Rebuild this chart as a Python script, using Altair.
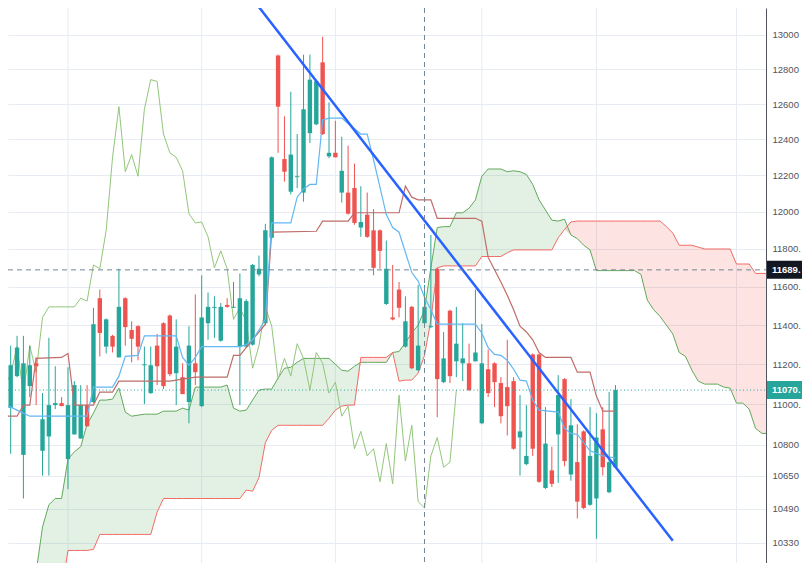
import altair as alt
import pandas as pd
import numpy as np

# ---------------- candles (bar index -1 .. 96) ----------------
candle_idx = list(range(-1, 97))
opens = [11195, 10790, 10980, 11140, 10750, 11090, 11205, 10770, 10840, 10995,
         11005, 10730, 10850, 10830, 10995, 11010, 11540, 11290, 11345, 11235,
         11540, 11375, 11395, 11195, 11055, 11295, 11410, 11450, 11155, 11135,
         11010, 11205, 10990, 11410, 11490, 11320, 11505, 11490, 11290, 11290,
         11300, 11665, 11410, 11860, 12880, 12290, 12110, 12190, 12105, 12435,
         12485, 12840, 12305, 12325, 12105, 12105, 12130, 11915, 11985, 11900,
         11900, 11510, 11440, 11585, 11290, 11495, 11170, 11410, 11390, 11695,
         11110, 11475, 11215, 11205, 11205, 11215, 10905, 11175, 11205, 11105,
         11085, 11115, 10835, 10705, 11250, 11250, 10590, 10675, 10850, 11125,
         10655, 10715, 10865, 10510, 10540, 10875, 10570, 10690]
highs = [11205, 11075, 11295, 11345, 11345, 11295, 11235, 11055, 11335, 11190,
         11035, 11185, 11115, 11095, 11095, 11490, 11585, 11435, 11350, 11695,
         11545, 11420, 11400, 11290, 11290, 11355, 11415, 11455, 11430, 11205,
         11395, 11560, 11660, 11570, 11550, 11515, 11540, 11625, 11670, 11535,
         11720, 11765, 11935, 12305, 12885, 12530, 12670, 12430, 12885, 12885,
         12735, 12990, 12610, 12505, 12415, 12365, 12265, 12140, 12105, 12015,
         11905, 11845, 11715, 11625, 11550, 11500, 11610, 11610, 11875, 11700,
         11365, 11480, 11495, 11410, 11305, 11585, 11405, 11275, 11210, 11135,
         11325, 11135, 11045, 10995, 11255, 11255, 10985, 10790, 11145, 11130,
         11025, 10900, 10870, 10985, 10955, 10985, 11060, 11095]
lows = [11045, 10580, 10755, 11135, 10540, 11035, 10995, 10650, 10650, 10975,
        10990, 10585, 10850, 10830, 10890, 11005, 11240, 11255, 11260, 11235,
        11295, 11210, 11220, 11000, 11050, 11095, 11075, 11140, 10995, 11050,
        10905, 11095, 10985, 11325, 11335, 11315, 11490, 11490, 10995, 11285,
        11295, 11655, 11400, 11855, 12325, 12165, 12095, 12130, 12055, 12380,
        12480, 12425, 12295, 12300, 12050, 11985, 11930, 11865, 11860, 11660,
        11695, 11505, 11425, 11440, 11285, 11175, 11165, 11405, 11385, 10935,
        11105, 11105, 11135, 11115, 11065, 11215, 10900, 11035, 10985, 10905,
        10845, 10775, 10650, 10700, 10745, 10615, 10585, 10595, 10615, 10695,
        10625, 10445, 10490, 10505, 10350, 10650, 10565, 10685]
closes = [11055, 11025, 11195, 11285, 11205, 11195, 11190, 10925, 10995, 11005,
          10990, 10995, 11095, 10995, 10890, 11405, 11360, 11430, 11290, 11495,
          11390, 11330, 11290, 11200, 11195, 11190, 11090, 11150, 11290, 11050,
          11295, 11160, 11440, 11495, 11495, 11495, 11495, 11495, 11540, 11525,
          11715, 11695, 11900, 12300, 12585, 12220, 12315, 12195, 12570, 12740,
          12730, 12430, 12325, 12300, 12225, 11990, 11940, 11945, 11865, 11700,
          11790, 11695, 11430, 11490, 11420, 11180, 11295, 11495, 11395, 11125,
          11230, 11140, 11305, 11230, 11070, 11260, 11205, 11055, 11110, 10940,
          10990, 10780, 10865, 10745, 10780, 10620, 10805, 10610, 11045, 10720,
          10895, 10525, 10495, 10745, 10835, 10690, 10715, 11070]

# ---------------- Ichimoku lines ----------------
tenkan_idx = [-1, 1, 2, 4, 13, 14, 17, 18, 19, 21, 22, 27, 28, 29, 30, 31, 37, 38, 39, 40,
              41, 42, 45, 46, 47, 48, 49, 50, 51, 53, 54, 56, 57, 58, 59, 60, 61, 62, 64, 65,
              66, 67, 68, 74, 75, 76, 77, 78, 79, 80, 81, 82, 83, 84, 87, 88, 89, 90, 92, 94, 96]
tenkan_val = [11015, 10985, 10970, 10940, 10940, 11085, 11085, 11140, 11240, 11245,
              11345, 11345, 11235, 11195, 11235, 11290, 11290, 11300, 11325, 11375,
              11430, 11940, 11940, 12080, 12125, 12150, 12150, 12510, 12520, 12520,
              12490, 12430, 12430, 12285, 12135, 11985, 11915, 11890, 11675, 11630,
              11545, 11480, 11405, 11405, 11360, 11285, 11250, 11245, 11220, 11175,
              11120, 11115, 11020, 10970, 10960, 10880, 10855, 10850, 10770, 10745, 10735]

kijun_idx = [-1, 0, 2, 3, 4, 5, 9, 10, 11, 14, 15, 17, 18, 26, 30, 35, 36, 37, 39, 41,
             42, 49, 50, 54, 55, 62, 63, 64, 65, 67, 68, 74, 75, 76, 77, 78, 79, 80, 81, 82,
             83, 84, 85, 89, 90, 92, 93, 94, 96]
kijun_val = [10905, 10940, 10940, 10995, 10995, 11230, 11235, 11255, 10995, 10995,
             11060, 11060, 11115, 11115, 11135, 11135, 11245, 11245, 11325, 11405,
             11890, 11895, 11950, 11950, 11995, 11995, 12140, 12080, 12065, 12065,
             11965, 11965, 11950, 11755, 11690, 11625, 11555, 11480, 11395, 11365,
             11325, 11260, 11235, 11235, 11160, 11160, 11040, 10965, 10965]

cloud_idx = list(range(-1, 122))
span_a = [9710, 9775, 9840, 9910, 9975, 10065, 10195, 10405, 10510, 10540,
          10540, 10730, 10765, 10790, 10900, 10955, 11020, 11020, 11025, 11080,
          10960, 10940, 10945, 10950, 10950, 10950, 10965, 10965, 10965, 10980,
          10970, 11085, 11085, 11085, 11085, 11085, 11095, 10980, 10965, 10970,
          11020, 11070, 11075, 11075, 11130, 11180, 11185, 11210, 11230, 11230,
          11230, 11230, 11230, 11200, 11170, 11165, 11190, 11210, 11210, 11210,
          11210, 11210, 11260, 11265, 11310, 11360, 11400, 11480, 11700, 11915,
          11920, 11920, 11995, 11995, 12020, 12065, 12195, 12235, 12235, 12235,
          12220, 12225, 12220, 12205, 12150, 12065, 12010, 11955, 11950, 11960,
          11875, 11855, 11820, 11795, 11685, 11685, 11685, 11685, 11685, 11685,
          11685, 11665, 11530, 11480, 11445, 11400, 11355, 11260, 11240, 11170,
          11115, 11100, 11100, 11100, 11085, 11080, 11005, 11005, 10975, 10880,
          10855, 10855, 10855]
span_b = [9535, 9580, 9620, 9665, 9710, 9755, 9820, 9885, 9955, 10020,
          10110, 10295, 10295, 10295, 10295, 10300, 10370, 10370, 10370, 10370,
          10370, 10370, 10370, 10370, 10370, 10475, 10540, 10540, 10540, 10540,
          10540, 10540, 10540, 10540, 10540, 10540, 10540, 10540, 10540, 10580,
          10575, 10640, 10810, 10870, 10895, 10895, 10895, 10895, 10895, 10895,
          10895, 10895, 10930, 10970, 10990, 10995, 10995, 11235, 11235, 11235,
          11235, 11235, 11260, 11115, 11120, 11120, 11155, 11245, 11425, 11700,
          11710, 11710, 11710, 11710, 11710, 11710, 11760, 11760, 11760, 11760,
          11780, 11795, 11795, 11795, 11795, 11795, 11795, 11795, 11860, 11905,
          11945, 11950, 11950, 11950, 11950, 11950, 11950, 11950, 11950, 11950,
          11950, 11950, 11950, 11950, 11950, 11920, 11885, 11820, 11820, 11820,
          11810, 11800, 11800, 11800, 11800, 11800, 11720, 11720, 11720, 11670,
          11670, 11670, 11670]

lag_shift = 25  # lagging span plotted 25 bars back

# ---------------- annotations ----------------
trend_idx = [40, 105]
trend_val = [13165, 10340]
vgrid_idx = [10, 31, 52, 75, 93, 115]
cross_idx = 66
cross_price = 11689
last_price = 11070
tick_values = [10330, 10490, 10650, 10800, 11000, 11200, 11400, 11600, 11800,
               12000, 12200, 12400, 12600, 12800, 13000]
flag_prices = [11689, 11070]
flag_texts = ["11689.", "11070."]
flag_colors = ["#131722", "#26a69a"]

# ---------------- frames ----------------
cdf = pd.DataFrame({"i": candle_idx, "open": opens, "high": highs,
                    "low": lows, "close": closes})
cdf["dir"] = np.where(cdf["close"] >= cdf["open"], "up", "down")

lag = cdf[cdf["i"] >= lag_shift - 1].copy()
lag["x"] = lag["i"] - lag_shift

cloud = pd.DataFrame({"i": cloud_idx, "a": span_a, "b": span_b})
cloud["lo"] = np.minimum(cloud["a"], cloud["b"])

tdf = pd.DataFrame({"i": tenkan_idx, "v": tenkan_val})
kdf = pd.DataFrame({"i": kijun_idx, "v": kijun_val})
trdf = pd.DataFrame({"i": trend_idx, "v": trend_val})
gdf = pd.DataFrame({"i": vgrid_idx})
xdf = pd.DataFrame({"i": [cross_idx]})
hdf = pd.DataFrame({"p": [cross_price]})
ldf = pd.DataFrame({"p": [last_price]})
fdf = pd.DataFrame({"p": flag_prices, "t": flag_texts, "c": flag_colors})

W, H = 758, 555
xs = alt.Scale(domain=[0.578, 119.64], nice=False, zero=False, padding=0)
ys = alt.Scale(type="log", domain=[10236.7, 13159.8], nice=False, padding=0)

yaxis = alt.Axis(orient="right", values=tick_values, grid=True, gridColor="#e6ecf2",
                 gridWidth=1, ticks=False, domain=True, domainColor="#50535e", domainWidth=1,
                 labelColor="#50535e", labelFont="Liberation Sans", labelFontSize=9.5,
                 labelPadding=6, labelAlign="left", labelBaseline="middle",
                 labelOverlap=False, labelBound=False, labelFlush=False, title=None,
                 labelExpr="datum.value >= 11000 && datum.value <= 11800 ? format(datum.value, 'd') + '.' : format(datum.value, 'd')")


def X(f):
    return alt.X(f, type="quantitative", scale=xs, axis=None)


def Y(f):
    return alt.Y(f, type="quantitative", scale=ys, axis=yaxis)


color_dir = alt.Color("dir:N", scale=alt.Scale(domain=["up", "down"],
                                               range=["#26a69a", "#ef5350"]), legend=None)

vgrid = alt.Chart(gdf).mark_rule(color="#e6ecf2", strokeWidth=1).encode(x=X("i"))

green_fill = alt.Chart(cloud).mark_area(color="#43a047", opacity=0.15, clip=True).encode(
    x=X("i"), y=Y("a"), y2="lo")
red_fill = alt.Chart(cloud).mark_area(color="#f44336", opacity=0.15, clip=True).encode(
    x=X("i"), y=Y("b"), y2="lo")
a_line = alt.Chart(cloud).mark_line(color="#63a85b", strokeWidth=1, clip=True).encode(
    x=X("i"), y=Y("a"))
b_line = alt.Chart(cloud).mark_line(color="#f26b65", strokeWidth=1, clip=True).encode(
    x=X("i"), y=Y("b"))
lag_line = alt.Chart(lag).mark_line(color="#93c67a", strokeWidth=1, clip=True).encode(
    x=X("x"), y=Y("close"))

wicks = alt.Chart(cdf).mark_rule(strokeWidth=1, clip=True).encode(
    x=X("i"), y=Y("low"), y2="high", color=color_dir)
bodies = alt.Chart(cdf).mark_bar(size=4.4, clip=True).encode(
    x=X("i"), y=Y("open"), y2="close", color=color_dir)

kijun = alt.Chart(kdf).mark_line(color="#bf6d69", strokeWidth=1.2, clip=True).encode(
    x=X("i"), y=Y("v"))
tenkan = alt.Chart(tdf).mark_line(color="#63b7f3", strokeWidth=1.2, clip=True).encode(
    x=X("i"), y=Y("v"))
trend = alt.Chart(trdf).mark_line(color="#2962ff", strokeWidth=2.5, clip=True).encode(
    x=X("i"), y=Y("v"))

cross_v = alt.Chart(xdf).mark_rule(color="#758696", strokeWidth=1, strokeDash=[5, 4]).encode(
    x=X("i"))
cross_h = alt.Chart(hdf).mark_rule(color="#758696", strokeWidth=1, strokeDash=[5, 4]).encode(
    y=Y("p"), x=alt.value(0), x2=alt.value(W))
last_line = alt.Chart(ldf).mark_rule(color="#26a69a", strokeWidth=1, strokeDash=[1, 2.5]).encode(
    y=Y("p"), x=alt.value(0), x2=alt.value(W))

flags = alt.Chart(fdf).mark_rect(yOffset=-9, y2Offset=9).encode(
    x=alt.value(W + 1), x2=alt.value(W + 40), y=Y("p"), y2="p",
    color=alt.Color("c:N", scale=None))
flag_text = alt.Chart(fdf).mark_text(align="left", baseline="middle", color="white",
                                     fontSize=9.5, fontWeight="bold",
                                     font="Liberation Sans").encode(
    x=alt.value(W + 6), y=Y("p"), text="t:N")

chart = alt.layer(
    vgrid, green_fill, red_fill, a_line, b_line, lag_line,
    wicks, bodies, kijun, tenkan, trend,
    cross_v, cross_h, last_line, flags, flag_text
).properties(
    width=W, height=H,
    padding={"left": 0, "top": 0, "right": 36, "bottom": 0},
    autosize=alt.AutoSizeParams(type="none"),
    background="#ffffff",
).configure_view(stroke=None)

chart.save("out.html", embed_options={"renderer": "svg", "actions": False})
